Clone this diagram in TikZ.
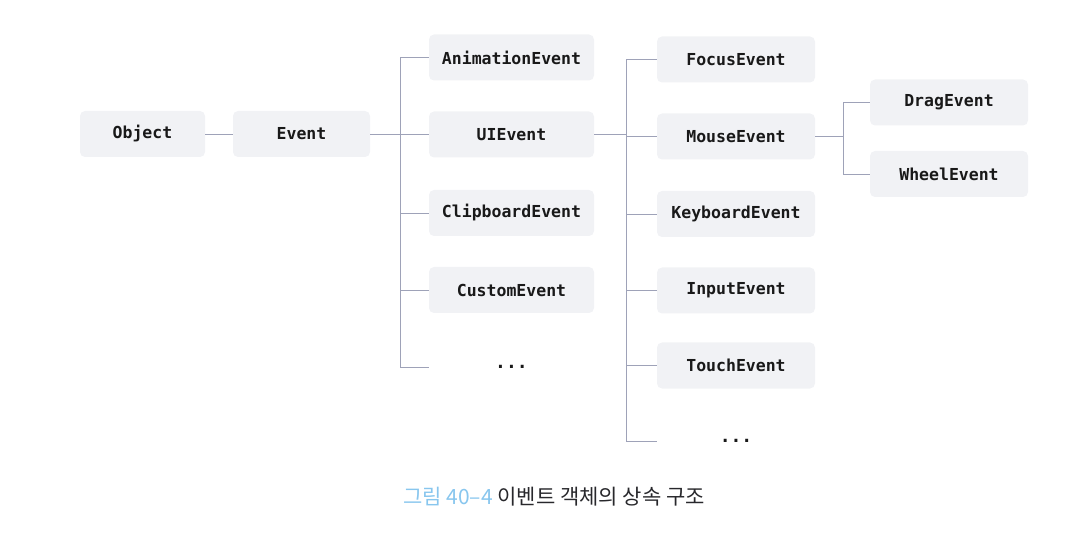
\documentclass[tikz,border=0pt]{standalone}
\usepackage{fontspec}
\setmonofont{DejaVu Sans Mono}
\newfontfamily\cjk{Noto Sans CJK KR}
\usepackage{xcolor}
\definecolor{BoxGray}{RGB}{241,242,245}
\definecolor{LinkGray}{RGB}{158,162,184}
\definecolor{CapBlue}{RGB}{136,198,238}
\definecolor{CapText}{RGB}{40,40,44}
\usetikzlibrary{positioning, calc}

\begin{document}
\begin{tikzpicture}[x=1pt,y=-1pt,
	box/.style={fill=BoxGray,rounded corners=5pt,minimum height=46pt,inner sep=0pt,
		text=black!90,font=\ttfamily\bfseries\fontsize{16.5}{18}\selectfont},
	more/.style={minimum height=46pt,inner sep=0pt,text=black!90,font=\ttfamily\bfseries\fontsize{18}{18}\selectfont},
	link/.style={draw=LinkGray,line width=0.7pt}]
\useasboundingbox (0,0) rectangle (1072,540);
\node[box,minimum width=125pt] (Obj) at (142.5,134) {Object};
\node[box,minimum width=137pt] (Ev) at (301.5,134) {Event};
\foreach \i/\y/\t in {1/57.5/AnimationEvent,2/134.5/UIEvent,3/213/ClipboardEvent,4/290/CustomEvent}
	\node[box,minimum width=165pt] (C\i) at (511.5,\y){\t};
\node[more,minimum width=165pt] (C5) at (511.5,367){...};
\foreach \i/\y/\t in {1/59.5/FocusEvent,2/136.5/MouseEvent,3/214/KeyboardEvent,4/290.5/InputEvent,5/365.5/TouchEvent}
	\node[box,minimum width=158pt] (U\i) at (736,\y){\t};
\node[more,minimum width=158pt] (U6) at (736,441){...};
\foreach \i/\y/\t in {1/102.5/DragEvent,2/174/WheelEvent}
	\node[box,minimum width=158pt] (M\i) at (949,\y){\t};
\coordinate (J1) at ($(Ev.east)+(30,0)$);
\coordinate (J2) at ($(C2.east)+(32,0)$);
\coordinate (J3) at ($(U2.east)+(28,0)$);
\draw[link] (Obj) -- (Ev);
\draw[link] (Ev) -- (J1);
\foreach \b in {1,...,5}\draw[link] (J1) |- (C\b.west);
\draw[link] (C2) -- (J2);
\foreach \b in {1,...,6}\draw[link] (J2) |- (U\b.west);
\draw[link] (U2) -- (J3);
\foreach \b in {1,2}\draw[link] (J3) |- (M\b.west);
\node[text=CapText,font=\cjk\fontsize{21}{24}\selectfont] (Cap) at (554,497)
	{\textcolor{CapBlue}{그림 40–4} 이벤트 객체의 상속 구조};
\end{tikzpicture}
\end{document}
